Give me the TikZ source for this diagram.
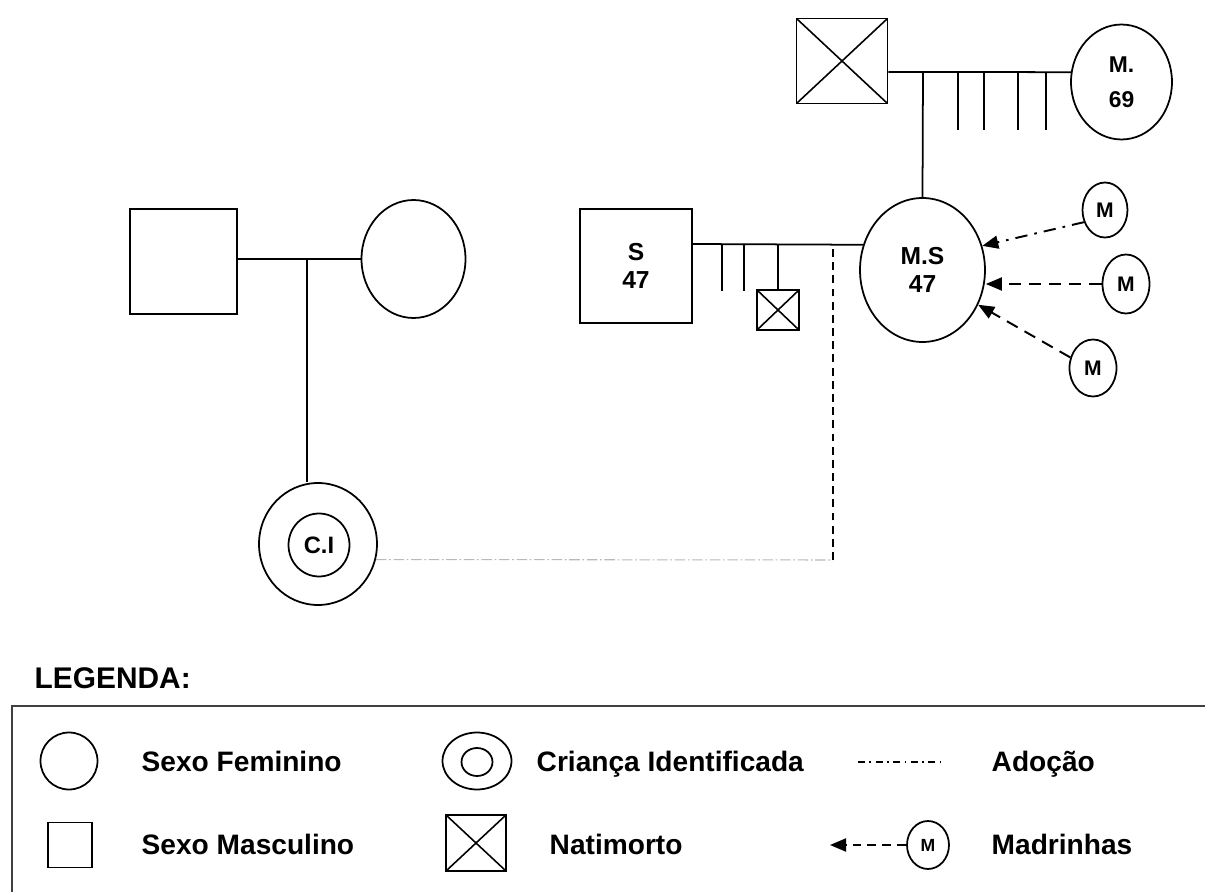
\documentclass[tikz,border=0pt]{standalone}
\usepackage{fontspec}
\setmainfont{Liberation Sans}
\usetikzlibrary{shapes.geometric, arrows.meta, positioning}

\begin{document}
\begin{tikzpicture}[
    x=0.02cm, y=-0.02cm,
    line width=1pt,
    male/.style={rectangle, draw, line width=1pt, inner sep=0pt, align=center, font=\fontsize{14}{16}\selectfont\bfseries},
    female/.style={ellipse, draw, line width=1pt, inner sep=0pt, align=center, font=\fontsize{14}{16}\selectfont\bfseries},
    stillborn/.style={rectangle, draw, line width=1pt, inner sep=0pt,
        path picture={\draw[line width=0.9pt] (path picture bounding box.north west) -- (path picture bounding box.south east)
                      (path picture bounding box.south west) -- (path picture bounding box.north east);}},
    godmother/.style={female, font=\fontsize{12}{14}\selectfont\bfseries},
    godarrow/.style={line width=1.1pt, dash pattern=on 7pt off 4.5pt, -{Triangle[length=3.2mm, width=2.6mm]}},
    adoptgray/.style={line width=0.6pt, gray!55, dash pattern=on 6pt off 1.5pt on 1pt off 1.5pt},
    adoptdash/.style={line width=1.5pt, dash pattern=on 4.5pt off 3pt},
    legtext/.style={anchor=west, text height=0.72em, text depth=0pt, font=\fontsize{16}{18}\selectfont\bfseries}
]
    \useasboundingbox (0,0) rectangle (1205,892);

    % family of the identified child
    \node[male, minimum width=2.14cm, minimum height=2.10cm] (fa) at (183.5,261.5) {};
    \node[female, minimum width=2.08cm, minimum height=2.36cm] (mo) at (413.5,259) {};
    \node[female, minimum width=2.36cm, minimum height=2.44cm] (ci) at (318,544) {};
    \node[female, minimum width=1.22cm, minimum height=1.26cm, font=\fontsize{13.5}{16}\selectfont\bfseries] (ciin) at (319,545) {C.I};
    \coordinate (cpl1) at (307,259);
    \draw (fa.east |- mo.west) -- (mo.west);
    \draw (cpl1) -- (cpl1 |- ci.north);

    % adoptive family
    \node[male, minimum width=2.24cm, minimum height=2.28cm] (s) at (636,266) {S\\47};
    \node[female, minimum width=2.5cm, minimum height=2.88cm] (ms) at (922.5,270) {M.S\\47};
    \node[stillborn, minimum width=0.84cm, minimum height=0.80cm] (nat) at (778,310) {};
    \coordinate (cpl2) at (833,244);
    \draw (s.east |- cpl2) -- (ms.157);
    \foreach \xs in {722,744}
        \draw (\xs,244) -- (\xs,291);
    \draw (nat.north |- cpl2) -- (nat.north);

    % grandparents
    \node[stillborn, minimum width=1.82cm, minimum height=1.70cm] (avo) at (842,61) {};
    \node[female, minimum width=2.02cm, minimum height=2.30cm, font=\fontsize{13}{15}\selectfont\bfseries] (avoa) at (1121.5,82) {M.\\[5pt]69};
    \coordinate (cpl3) at (923,72);
    \draw (avo.east |- cpl3) -- (avoa.169);
    \foreach \xs in {958,984,1018,1046}
        \draw (\xs,72) -- (\xs,130);
    \draw (cpl3) -- (ms.north);

    % adoption
    \coordinate (adp) at (833,560);
    \draw[adoptgray] (ci.-15) -- (adp);
    \draw[adoptdash] (adp) -- (cpl2);

    % godmothers
    \node[godmother, minimum width=0.9cm, minimum height=1.1cm] (m1) at (1105,210) {M};
    \node[godmother, minimum width=0.94cm, minimum height=1.18cm] (m2) at (1126,284) {M};
    \node[godmother, minimum width=0.94cm, minimum height=1.14cm] (m3) at (1093,368) {M};
    \draw[godarrow, dash pattern=on 7pt off 4pt on 1.5pt off 4pt] (m1.210) -- (ms.22);
    \draw[godarrow] (m2.west) -- (ms.east |- m2.west);
    \draw[godarrow] (m3.155) -- (ms.-32);

    % legend
    \node[anchor=west, font=\fontsize{17}{20}\selectfont\bfseries] (legtitle) at (28,678) {LEGENDA:};
    \draw[line width=1.3pt, black!75] (1205,706) -- (12,706) -- (12,892);

    \node[female, minimum width=1.14cm, minimum height=1.14cm] (lfem) at (69,761) {};
    \node[legtext] (tfem) at (135,765) {Sexo Feminino};
    \node[male, minimum width=0.88cm, minimum height=0.90cm] (lmal) at (70,845) {};
    \node[legtext] (tmal) at (135,848) {Sexo Masculino};

    \node[female, minimum width=1.38cm, minimum height=1.14cm] (lci) at (477,761) {};
    \node[female, minimum width=0.62cm, minimum height=0.56cm] (lciin) at (477,762) {};
    \node[legtext] (tci) at (530,765) {Criança Identificada};
    \node[stillborn, minimum width=1.2cm, minimum height=1.12cm] (lnat) at (476,843) {};
    \node[legtext] (tnat) at (543,848) {Natimorto};

    \coordinate (ladp1) at (858,762);
    \coordinate (ladp2) at (940,762);
    \draw[line width=0.8pt, dash pattern=on 4pt off 2.5pt on 1pt off 2.5pt] (ladp1) -- (ladp2);
    \node[legtext] (tadp) at (985,765) {Adoção};
    \node[godmother, minimum width=0.84cm, minimum height=0.96cm, font=\fontsize{10}{12}\selectfont\bfseries] (lmad) at (928,845) {M};
    \coordinate (lmadtip) at (830,845);
    \draw[godarrow, dash pattern=on 5pt off 3.5pt] (lmad.west) -- (lmadtip);
    \node[legtext] (tmad) at (985,848) {Madrinhas};
\end{tikzpicture}
\end{document}
